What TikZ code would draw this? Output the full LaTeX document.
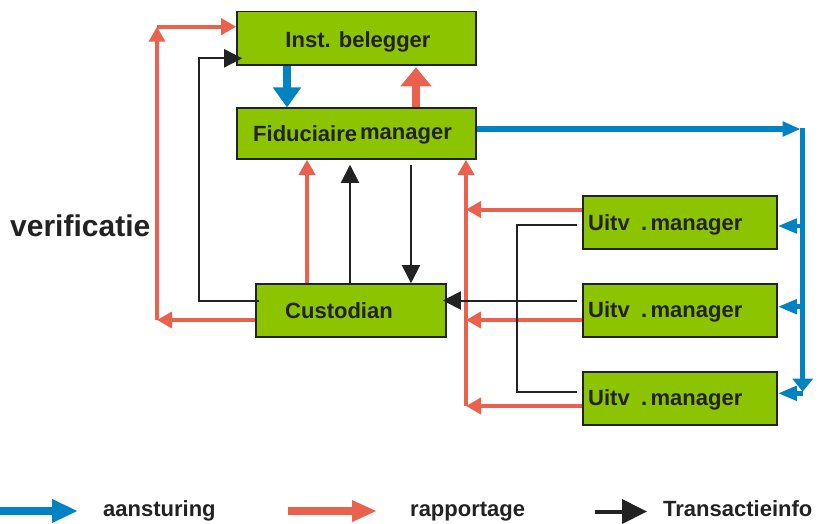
\documentclass[tikz,border=0pt]{standalone}
\usepackage{fontspec}
\setmainfont{Liberation Sans}
\usetikzlibrary{arrows.meta,calc}
\definecolor{boxgreen}{HTML}{8CC400}
\definecolor{flowblue}{HTML}{0082C3}
\definecolor{flowred}{HTML}{EA614E}
\definecolor{ink}{HTML}{222222}
\begin{document}
\begin{tikzpicture}[x=1pt,y=-1pt,
  box/.style={draw=ink, line width=1.6pt, fill=boxgreen, inner sep=0pt},
  lbl/.style={font=\fontsize{22}{24}\selectfont\bfseries, text=ink, inner sep=0pt},
  % rapportage (red), aansturing (blue), transactieinfo (black)
  redthin/.style={draw=flowred, line width=4pt, -{Triangle[length=15pt,width=16pt]}},
  redthick/.style={draw=flowred, line width=7.3pt, -{Triangle[length=19pt,width=30pt]}},
  bluethick/.style={draw=flowblue, line width=7.3pt, -{Triangle[length=20pt,width=27pt]}},
  bluemid/.style={draw=flowblue, line width=5.5pt, -{Triangle[length=18pt,width=14pt]}},
  bluevert/.style={draw=flowblue, line width=4.5pt, -{Triangle[length=13pt,width=20pt]}},
  bluebranch/.style={draw=flowblue, line width=4.5pt, -{Triangle[length=19pt,width=14pt]}},
  blk/.style={draw=ink, line width=2pt, -{Triangle[length=18pt,width=18pt]}},
  blkline/.style={draw=ink, line width=2pt},
]
\useasboundingbox (0,0) rectangle (819,523);

% boxes
\node[box, minimum width=239pt, minimum height=53.5pt] (inst)  at (356.5,38.25) {};
\node[box, minimum width=239pt, minimum height=50.7pt] (fidu)  at (356.5,133.6) {};
\node[box, minimum width=190pt, minimum height=53pt]   (cust)  at (351,310.5) {};
\node[box, minimum width=194pt, minimum height=53.3pt] (uitv1) at (680,222.4) {};
\node[box, minimum width=194pt, minimum height=53.3pt] (uitv2) at (680,310.5) {};
\node[box, minimum width=194pt, minimum height=53.3pt] (uitv3) at (680,398.4) {};

% labels
\node[lbl, anchor=base] (inst-t) at (358,47.7) {Inst. belegger};
\node[lbl, anchor=base west] (fidu-t) at (253,141.7) {Fiduciaire\hspace{3pt}\raisebox{2pt}{manager}};
\node[lbl, anchor=base] (cust-t) at (339,318.3) {Custodian};
\node[lbl, anchor=base west] (uitv1-t) at (588,230.5) {Uitv\hspace{11.5pt}.\hspace{3.3pt}manager};
\node[lbl, anchor=base west] (uitv2-t) at (588,317) {Uitv\hspace{11.5pt}.\hspace{3.3pt}manager};
\node[lbl, anchor=base west] (uitv3-t) at (588,405) {Uitv\hspace{11.5pt}.\hspace{3.3pt}manager};
\node[font=\fontsize{30}{32}\selectfont\bfseries, text=ink, inner sep=0pt, anchor=base west]
  (verif) at (10,236.7) {verificatie};

% corner points of the routed connectors
\coordinate (rc1) at (157,320);
\coordinate (rc2) at (157,26.7);
\coordinate (bc1) at (199,300.5);
\coordinate (bc2) at (199,58.3);
\coordinate (rv)  at (466,406);
\coordinate (bk1) at (517,224.7);
\coordinate (bk2) at (517,391.7);
\coordinate (bt)  at (800.7,129);
\coordinate (bv1) at (802.7,128);
\coordinate (bv2) at (802.7,391.7);

% Inst. belegger <-> Fiduciaire manager
\draw[bluethick] (inst.south -| 287,0) -- (fidu.north -| 287,0);
\draw[redthick]  (fidu.north -| 416,0) -- ([yshift=-1.5pt]inst.south -| 416,0);

% verificatie loop
\draw[redthin] (cust.west |- rc1) -- (rc1);
\draw[redthin] (rc1) -- (rc2);
\draw[redthin] (rc2) -- (inst.west |- rc2);
\draw[blk] ([xshift=4pt]cust.west |- bc1) -- (bc1) -- (bc2) -- ([xshift=6pt]inst.west |- bc2);

% Custodian <-> Fiduciaire manager
\draw[redthin] (cust.north -| 307,0) -- (fidu.south -| 307,0);
\draw[blk, shorten >=5pt] (cust.north -| 350,0) -- (fidu.south -| 350,0);
\draw[blk, shorten <=5pt] (fidu.south -| 411,0) -- (cust.north -| 411,0);

% reports of the Uitv. managers
\draw[redthin] (rv) -- (fidu.south -| rv);
\draw[redthin] (uitv1.west |- 0,209.5) -- (rv |- 0,209.5);
\draw[redthin] (uitv2.west |- 0,320) -- (rv |- 0,320);
\draw[redthin] (uitv3.west |- rv) -- (rv);

% transaction info to the Custodian
\draw[blk, shorten <=5pt, shorten >=-4pt] (uitv2.west |- 0,300.5) -- (cust.east |- 0,300.5);
\draw[blkline, shorten <=5pt, shorten >=5pt] (uitv1.west |- bk1) -- (bk1) -- (bk2) -- (uitv3.west |- bk2);

% steering of the Uitv. managers
\draw[bluemid] (fidu.east |- bt) -- (bt);
\draw[bluevert] (bv1) -- (bv2);
\draw[bluebranch] (bv1 |- 0,226) -- (uitv1.east |- 0,226);
\draw[bluebranch] (bv1 |- 0,306.7) -- (uitv2.east |- 0,306.7);
\draw[bluebranch] (bv1 |- 0,393.3) -- (uitv3.east |- 0,393.3);

% legend
\coordinate (lb1) at (0,511);   \coordinate (lb2) at (78,511);
\coordinate (lr1) at (288,511); \coordinate (lr2) at (377,511);
\coordinate (lk1) at (595,511.5); \coordinate (lk2) at (647,511.5);
\draw[draw=flowblue, line width=8pt, -{Triangle[length=26pt,width=22pt]}] (lb1) -- (lb2);
\draw[draw=flowred, line width=8pt, -{Triangle[length=25pt,width=20pt]}] (lr1) -- (lr2);
\draw[draw=ink, line width=4pt, -{Triangle[length=25pt,width=24pt]}] (lk1) -- (lk2);
\node[lbl, anchor=base west] (leg-a) at (103,516) {aansturing};
\node[lbl, anchor=base west] (leg-r) at (410,516) {rapportage};
\node[lbl, anchor=base west] (leg-t) at (663,516) {Transactieinfo};
\end{tikzpicture}
\end{document}
